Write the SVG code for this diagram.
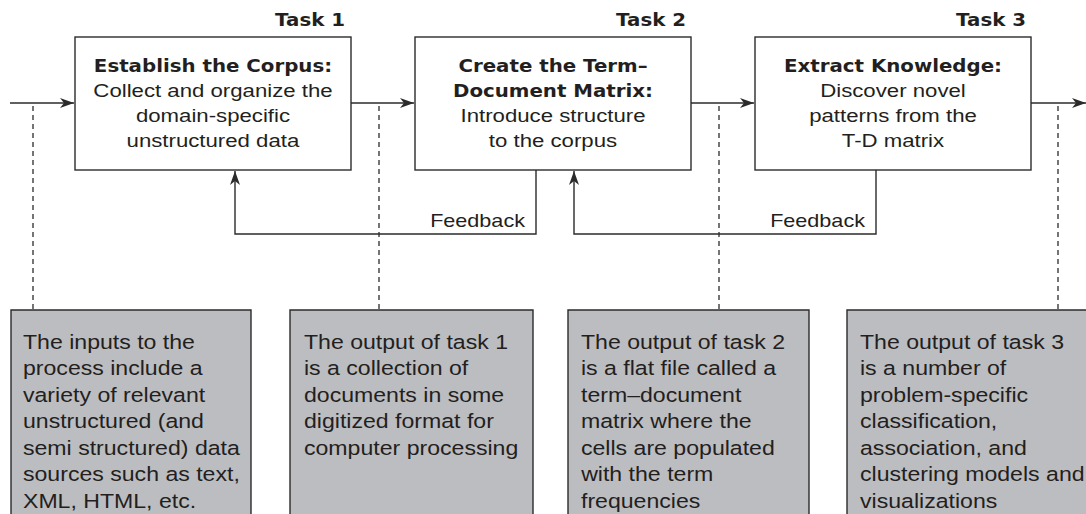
<svg xmlns="http://www.w3.org/2000/svg" width="1086" height="514" viewBox="0 0 1086 514">
<style>
.box{fill:#fff;stroke:#2b2b2b;stroke-width:1.4}
.note{fill:#bcbdc0;stroke:#2b2b2b;stroke-width:1.4}
.ln{fill:none;stroke:#2b2b2b;stroke-width:1.4}
.dash{fill:none;stroke:#2b2b2b;stroke-width:1.3;stroke-dasharray:5,4}
.t{font-family:"Liberation Sans",Arial,sans-serif;font-size:18.5px;fill:#231f20;transform-box:fill-box;transform-origin:0 50%;transform:scaleX(1.2)}
.n{font-size:19.5px;transform:scaleX(1.185)}
.f{font-size:18px}
.b{font-family:"DejaVu Sans",sans-serif;font-weight:bold;font-size:18px;fill:#231f20;transform-box:fill-box;transform-origin:0 50%;transform:scaleX(1.1)}
.c{text-anchor:middle;transform-origin:50% 50%}
.r{text-anchor:end;transform-origin:100% 50%}
</style>
<defs>
<marker id="ah" viewBox="0 0 14 10" refX="14" refY="5" markerWidth="14" markerHeight="10" markerUnits="userSpaceOnUse" orient="auto">
<path d="M0,0 L14,5 L0,10 L4,5 Z" fill="#2b2b2b"/>
</marker>
</defs>
<g id="connectors">
<line class="ln" x1="10" y1="103" x2="74" y2="103" marker-end="url(#ah)"/>
<line class="ln" x1="351" y1="103" x2="414" y2="103" marker-end="url(#ah)"/>
<line class="ln" x1="691" y1="103" x2="754" y2="103" marker-end="url(#ah)"/>
<line class="ln" x1="1031" y1="103" x2="1086" y2="103" marker-end="url(#ah)"/>
<polyline class="ln" points="536,170 536,234 235,234 235,171" marker-end="url(#ah)"/>
<polyline class="ln" points="876,170 876,234 574,234 574,171" marker-end="url(#ah)"/>
<line class="dash" x1="33" y1="106" x2="33" y2="310"/>
<line class="dash" x1="379" y1="106" x2="379" y2="310"/>
<line class="dash" x1="719" y1="106" x2="719" y2="310"/>
<line class="dash" x1="1058" y1="106" x2="1058" y2="310"/>
<text class="t f r" x="525" y="227">Feedback</text>
<text class="t f r" x="865" y="227">Feedback</text>
</g>
<g id="task1">
<text class="b r" x="345" y="26">Task 1</text>
<rect class="box" x="75" y="37" width="276" height="133"/>
<text class="b c" x="213" y="72">Establish the Corpus:</text>
<text class="t c" x="213" y="97">Collect and organize the</text>
<text class="t c" x="213" y="122">domain-specific</text>
<text class="t c" x="213" y="147">unstructured data</text>
</g>
<g id="task2">
<text class="b r" x="686" y="26">Task 2</text>
<rect class="box" x="415" y="37" width="276" height="133"/>
<text class="b c" x="553" y="72">Create the Term–</text>
<text class="b c" x="553" y="97">Document Matrix:</text>
<text class="t c" x="553" y="122">Introduce structure</text>
<text class="t c" x="553" y="147">to the corpus</text>
</g>
<g id="task3">
<text class="b r" x="1026" y="26">Task 3</text>
<rect class="box" x="755" y="37" width="276" height="133"/>
<text class="b c" x="893" y="72">Extract Knowledge:</text>
<text class="t c" x="893" y="97">Discover novel</text>
<text class="t c" x="893" y="122">patterns from the</text>
<text class="t c" x="893" y="147">T-D matrix</text>
</g>
<g id="note-inputs">
<path class="note" d="M11,520 L11,310 L251,310 L251,520"/>
<text class="t n" x="23" y="349">The inputs to the</text>
<text class="t n" x="23" y="375.5">process include a</text>
<text class="t n" x="23" y="402">variety of relevant</text>
<text class="t n" x="23" y="428.5">unstructured (and</text>
<text class="t n" x="23" y="455">semi structured) data</text>
<text class="t n" x="23" y="481.5">sources such as text,</text>
<text class="t n" x="23" y="508">XML, HTML, etc.</text>
</g>
<g id="note-task1">
<path class="note" d="M290,520 L290,310 L533,310 L533,520"/>
<text class="t n" x="304" y="349">The output of task 1</text>
<text class="t n" x="304" y="375.5">is a collection of</text>
<text class="t n" x="304" y="402">documents in some</text>
<text class="t n" x="304" y="428.5">digitized format for</text>
<text class="t n" x="304" y="455">computer processing</text>
</g>
<g id="note-task2">
<path class="note" d="M568,520 L568,310 L809,310 L809,520"/>
<text class="t n" x="581" y="349">The output of task 2</text>
<text class="t n" x="581" y="375.5">is a flat file called a</text>
<text class="t n" x="581" y="402">term–document</text>
<text class="t n" x="581" y="428.5">matrix where the</text>
<text class="t n" x="581" y="455">cells are populated</text>
<text class="t n" x="581" y="481.5">with the term</text>
<text class="t n" x="581" y="508">frequencies</text>
</g>
<g id="note-task3">
<path class="note" d="M847,520 L847,310 L1090,310 L1090,520"/>
<text class="t n" x="860" y="349">The output of task 3</text>
<text class="t n" x="860" y="375.5">is a number of</text>
<text class="t n" x="860" y="402">problem-specific</text>
<text class="t n" x="860" y="428.5">classification,</text>
<text class="t n" x="860" y="455">association, and</text>
<text class="t n" x="860" y="481.5">clustering models and</text>
<text class="t n" x="860" y="508">visualizations</text>
</g>
</svg>
